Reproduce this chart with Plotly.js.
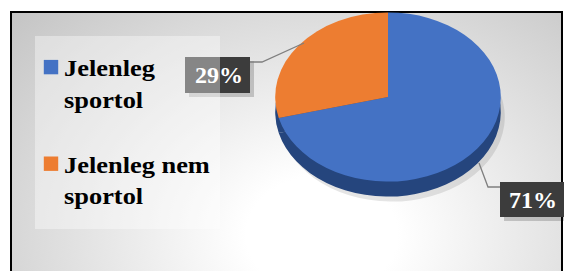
<!DOCTYPE html>
<html>
<head>
<meta charset="utf-8">
<script src="https://cdn.plot.ly/plotly-3.0.1.min.js"></script>
<style>
html, body { margin: 0; padding: 0; background: #ffffff; }
#wrap { position: relative; width: 564px; height: 271px; overflow: hidden; background: #ffffff; }
#frame {
  position: absolute; left: 10px; top: 11px; width: 553px; height: 300px;
  box-sizing: border-box; border: 2px solid #000000;
  background: radial-gradient(ellipse 420px 330px at 310px 222px, #ffffff 0%, #ffffff 18%, #c4c4c4 100%);
}
#chart { position: absolute; left: 0; top: 0; width: 564px; height: 271px; }
</style>
</head>
<body>
<div id="wrap">
  <div id="frame"></div>
  <div id="chart"></div>
</div>
<script>
// ---- data ----
const categories = ['Jelenleg<br>sportol', 'Jelenleg nem<br>sportol'];
const values = [71, 29];
const topColors = ['#4472C4', '#ED7D31'];
const sideColors = ['#25457d', '#25457d'];
const shadowColors = ['rgba(0,0,0,0.10)', 'rgba(0,0,0,0.10)'];

// ---- helpers (pixel -> paper) ----
const W = 564, H = 271;
const PX = x => x / W;
const PY = y => 1 - y / H;

const total = values.reduce((a, b) => a + b, 0);
const pctText = values.map(v => Math.round(v / total * 100) + '%');

// legend labels (extra empty line gives the gap between the two entries)
const legendLabels = categories.map((c, i) => i === 0 ? c + '<br>&nbsp;' : c);

const pieDomain = { x: [0.45, 0.85], y: [0.05, 0.95] };
const baseTrace = {
  type: 'pie',
  values: values,
  labels: legendLabels,
  sort: false,
  direction: 'clockwise',
  rotation: 0,
  textinfo: 'none',
  hoverinfo: 'skip',
  domain: pieDomain
};

const data = [
  Object.assign({}, baseTrace, { marker: { colors: shadowColors, line: { width: 0 } }, showlegend: false }),
  Object.assign({}, baseTrace, { marker: { colors: sideColors, line: { width: 0 } }, showlegend: false }),
  Object.assign({}, baseTrace, { marker: { colors: topColors, line: { width: 0 } }, showlegend: true })
];

const labelFont = { family: 'Liberation Serif, Times New Roman, serif', size: 24, color: '#ffffff', weight: 'bold' };

// boxes: [left, top, right, bottom] in px
const box29 = [185, 57, 250, 93];
const box71 = [500, 182, 565, 217];
const legendBox = [35, 36, 220, 229];
function rect(b, dx, dy, fill) {
  return { type: 'rect', xref: 'paper', yref: 'paper',
    x0: PX(b[0] + dx), x1: PX(b[2] + dx), y0: PY(b[3] + dy), y1: PY(b[1] + dy),
    fillcolor: fill, line: { width: 0 } };
}
function path(pts) {
  return { type: 'path', xref: 'paper', yref: 'paper',
    path: pts.map((p, i) => (i ? 'L' : 'M') + PX(p[0]) + ',' + PY(p[1])).join(' '),
    line: { color: '#7f7f7f', width: 1.3 } };
}

const layout = {
  width: W, height: H,
  margin: { l: 0, r: 0, t: 0, b: 0 },
  paper_bgcolor: 'rgba(0,0,0,0)',
  plot_bgcolor: 'rgba(0,0,0,0)',
  showlegend: true,
  legend: {
    x: PX(31), y: PY(45), xanchor: 'left', yanchor: 'top',
    bgcolor: 'rgba(0,0,0,0)', borderwidth: 0,
    valign: 'top', traceorder: 'normal',
    font: { family: 'Liberation Serif, Times New Roman, serif', size: 24, color: '#000000', weight: 'bold' }
  },
  shapes: [
    rect(box29, 4, 4, 'rgba(0,0,0,0.18)'),
    rect(box29, 0, 0, '#3c3c3c'),
    rect(box71, 4, 4, 'rgba(0,0,0,0.18)'),
    rect(box71, 0, 0, '#3c3c3c'),
    rect(legendBox, 0, 0, 'rgba(255,255,255,0.38)'),
    path([[250, 62], [262, 62], [304, 43]]),
    path([[479, 163], [488, 187], [500, 187]])
  ],
  annotations: [
    { xref: 'paper', yref: 'paper', x: PX((box29[0] + box29[2]) / 2 + 1), y: PY((box29[1] + box29[3]) / 2),
      text: pctText[1], showarrow: false, font: labelFont, xanchor: 'center', yanchor: 'middle' },
    { xref: 'paper', yref: 'paper', x: PX((box71[0] + box71[2]) / 2), y: PY((box71[1] + box71[3]) / 2),
      text: pctText[0], showarrow: false, font: labelFont, xanchor: 'center', yanchor: 'middle' }
  ]
};

// 3-D look: top face, dark side and shadow, squeezed into an ellipse
const target = { x: 388, y: 97 };
const squeeze = 0.75;
const offsets = [[4, 20], [0, 15], [0, 0]];

Plotly.newPlot('chart', data, layout, { staticPlot: true, displayModeBar: false }).then(gd => {
  const groups = gd.querySelectorAll('.pielayer .trace');
  groups.forEach((g, i) => {
    const cd = gd.calcdata[i][0];
    const cx = cd.cx !== undefined ? cd.cx : W * (pieDomain.x[0] + pieDomain.x[1]) / 2;
    const cy = cd.cy !== undefined ? cd.cy : H * (1 - (pieDomain.y[0] + pieDomain.y[1]) / 2);
    const o = offsets[i];
    g.setAttribute('transform',
      'translate(' + (target.x + o[0]) + ',' + (target.y + o[1]) + ') scale(1,' + squeeze + ') translate(' + (-cx) + ',' + (-cy) + ')');
  });
  gd.querySelectorAll('.legend [clip-path]').forEach(e => e.removeAttribute('clip-path'));
  gd.querySelectorAll('.legendpoints path').forEach(p => {
    const t = p.getAttribute('transform') || '';
    p.setAttribute('transform', t + ' scale(1.2)');
  });
  gd.querySelectorAll('.legendtext').forEach(t => {
    t.setAttribute('transform', 'translate(33,0) scale(1.1,1) translate(-40,0)');
  });
});
</script>
</body>
</html>
